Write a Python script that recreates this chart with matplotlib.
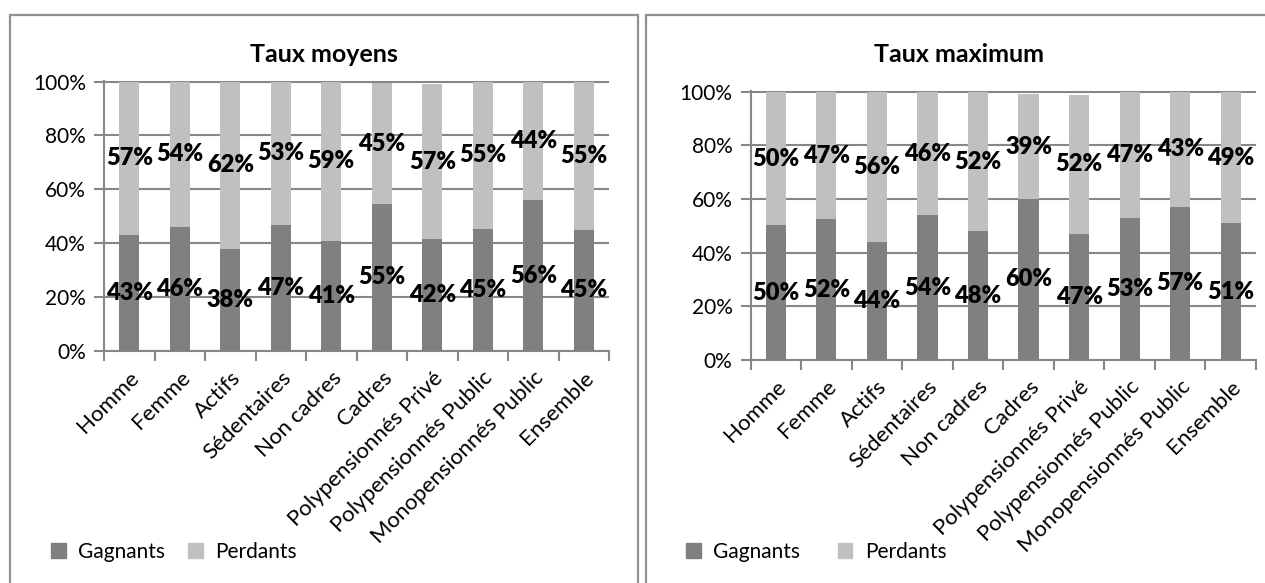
import matplotlib.pyplot as plt
from matplotlib.patches import Patch, Rectangle

categories = ['Homme', 'Femme', 'Actifs', 'Sédentaires', 'Non cadres', 'Cadres',
              'Polypensionnés Privé', 'Polypensionnés Public', 'Monopensionnés Public', 'Ensemble']

moyens_gagnants = [42.9, 45.9, 37.8, 46.9, 40.9, 54.6, 41.6, 45.3, 55.9, 44.9]
moyens_perdants = [57.1, 54.1, 62.2, 53.1, 59.1, 44.7, 57.3, 54.7, 44.1, 55.1]

maximum_gagnants = [50.2, 52.4, 44.0, 53.9, 48.0, 60.1, 47.1, 52.9, 57.2, 50.9]
maximum_perdants = [49.8, 47.4, 56.0, 46.1, 52.0, 39.0, 51.6, 47.1, 42.8, 49.1]

yticks = [0, 20, 40, 60, 80, 100]

plt.rcParams['font.family'] = ['Lato', 'DejaVu Sans']
dark = '#808080'
light = '#c0c0c0'
grey = '#878787'

W, H = 1265, 583
fig = plt.figure(figsize=(W / 100, H / 100), dpi=100)

# panel frames
fig.patches.append(Rectangle((10 / W, -0.05), (637.5 - 10) / W, 1.05 - 14.5 / H, transform=fig.transFigure,
                             fill=False, edgecolor='#909090', linewidth=1.6))
fig.patches.append(Rectangle((645.5 / W, -0.05), 0.5, 1.05 - 14.5 / H, transform=fig.transFigure,
                             fill=False, edgecolor='#909090', linewidth=1.6))


def draw(rect, gagnants, perdants, title, title_x, leg_x, colspace):
    ax = fig.add_axes(rect)
    x = range(len(categories))
    b1 = ax.bar(x, gagnants, width=0.4, color=dark, zorder=3)
    b2 = ax.bar(x, perdants, width=0.4, bottom=gagnants, color=light, zorder=3)
    ax.bar_label(b1, labels=[f'{round(v)}%' for v in gagnants], label_type='center',
                 fontsize=17, fontweight='heavy', color='black', zorder=5)
    ax.bar_label(b2, labels=[f'{round(v)}%' for v in perdants], label_type='center',
                 fontsize=17, fontweight='heavy', color='black', zorder=5)
    ax.set_xlim(-0.5, len(categories) - 0.5)
    ax.set_ylim(0, 100.3)
    ax.set_yticks(yticks)
    ax.set_yticklabels([f'{t}%' for t in yticks], fontsize=15)
    ax.yaxis.grid(True, color=grey, linewidth=1.5, zorder=0)
    ax.set_xticks(list(x))
    ax.set_xticklabels(categories, rotation=45, ha='right', va='top', rotation_mode='anchor', fontsize=16)
    ax.set_xticks([i - 0.5 for i in range(len(categories) + 1)], minor=True)
    ax.tick_params(axis='x', which='major', length=0, pad=12)
    ax.tick_params(axis='x', which='minor', length=7, width=1.5, color=grey, direction='out')
    ax.tick_params(axis='y', length=7, width=1.5, color=grey, pad=6)
    for s in ['top', 'right']:
        ax.spines[s].set_visible(False)
    for s in ['left', 'bottom']:
        ax.spines[s].set_color(grey)
        ax.spines[s].set_linewidth(1.5)
    fig.text(title_x / W, 1 - 54 / H, title, ha='center', va='center', fontsize=18, fontweight='bold')
    handles = [Patch(color=dark, label='Gagnants'), Patch(color=light, label='Perdants')]
    fig.legend(handles=handles, loc='center left', bbox_to_anchor=(leg_x / W, 1 - 552 / H), ncol=2,
               frameon=False, fontsize=15, handlelength=0.7, handleheight=0.7, handletextpad=0.6,
               columnspacing=colspace, borderpad=0, borderaxespad=0)
    return ax


draw([104 / W, 1 - 351 / H, 505 / W, 270.3 / H], moyens_gagnants, moyens_perdants,
     'Taux moyens', 324, 51, 1.1)
draw([750.5 / W, 1 - 360 / H, 505.5 / W, 269 / H], maximum_gagnants, maximum_perdants,
     'Taux maximum', 959, 686, 1.8)

fig.savefig('out.png', dpi=100)
